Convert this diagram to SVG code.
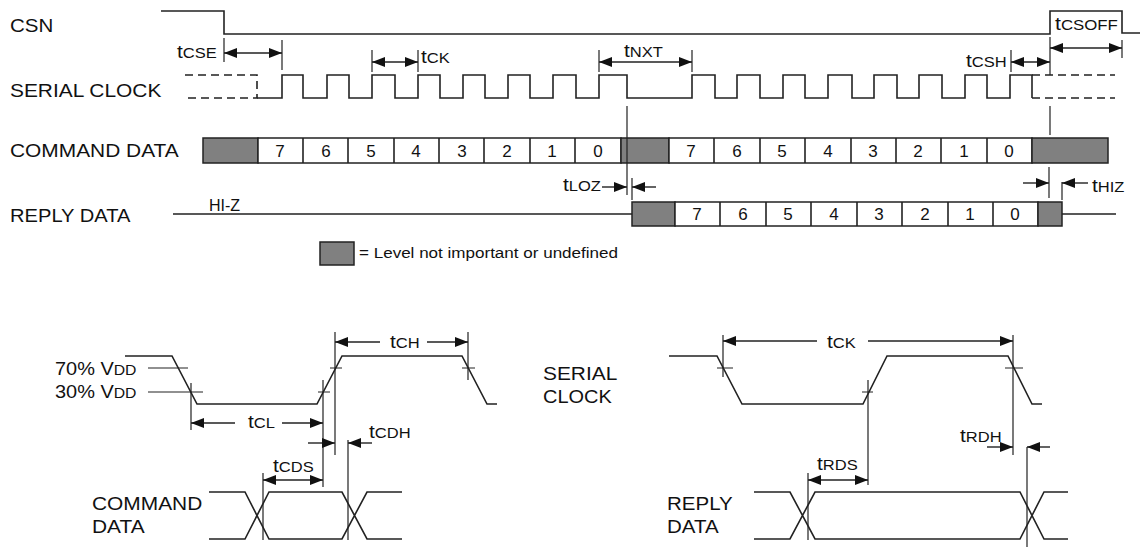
<svg xmlns="http://www.w3.org/2000/svg" width="1143" height="547" viewBox="0 0 1143 547">
<style>
text{font-family:"Liberation Sans",Arial,sans-serif;fill:#111;}
.lbl{font-size:19px;}
.t{font-size:19px;}
.sub{font-size:15px;}
.dig{font-size:17px;text-anchor:middle;}
.w{fill:none;stroke:#222;stroke-width:1.6;}
.thin{fill:none;stroke:#222;stroke-width:1.2;}
.dash{fill:none;stroke:#222;stroke-width:1.6;stroke-dasharray:8 5;}
.box{fill:#fff;stroke:#222;stroke-width:1.5;}
.gray{fill:#808080;stroke:#222;stroke-width:1.5;}
.arr{fill:none;stroke:#222;stroke-width:1.4;}
.e{marker-end:url(#ah);}
.s{marker-start:url(#ah);}
.b{marker-start:url(#ah);marker-end:url(#ah);}
</style>
<defs>
<marker id="ah" markerUnits="userSpaceOnUse" markerWidth="13" markerHeight="10" refX="13" refY="5" orient="auto-start-reverse">
<path d="M0,0 L13,5 L0,10 Z" fill="#111"/>
</marker>
</defs>

<g id="csn">
<text class="lbl" transform="translate(10,32) scale(1.08,1)">CSN</text>
<polyline class="w" points="161,11 224,11 224,34 1050,34 1050,11 1122,11 1122,33 1140,33"/>
</g>

<g id="serial-clock">
<text class="lbl" transform="translate(10,97) scale(1.1,1)">SERIAL CLOCK</text>
<path class="dash" d="M185,75 H257 V98 H185"/>
<path class="w" d="M257,98 H282 V75 H303 V98 H327 V75 H349 V98 H372 V75 H395 V98 H418 V75 H440 V98 H463 V75 H485 V98 H508 V75 H530 V98 H553 V75 H576 V98 H599 V75 H627 V98 H692 V75 H715 V98 H737 V75 H760 V98 H783 V75 H805 V98 H828 V75 H852 V98 H874 V75 H897 V98 H919 V75 H942 V98 H965 V75 H987 V98 H1010 V75 H1032 V98"/>
<path class="dash" d="M1032,75 H1115 M1032,98 H1115"/>
</g>

<g id="command-data">
<text class="lbl" transform="translate(10,157) scale(1.1,1)">COMMAND DATA</text>
<rect class="gray" x="203" y="138" width="55" height="25"/>
<rect class="box" x="258" y="138" width="363" height="25"/>
<rect class="gray" x="621" y="138" width="48" height="25"/>
<rect class="box" x="669" y="138" width="363" height="25"/>
<rect class="gray" x="1032" y="138" width="76" height="25"/>
<path class="w" d="M303,138 V163 M348,138 V163 M394,138 V163 M439,138 V163 M484,138 V163 M530,138 V163 M575,138 V163 M714,138 V163 M760,138 V163 M805,138 V163 M851,138 V163 M896,138 V163 M941,138 V163 M987,138 V163"/>
<text class="dig" x="280" y="157">7</text><text class="dig" x="326" y="157">6</text><text class="dig" x="371" y="157">5</text><text class="dig" x="416" y="157">4</text><text class="dig" x="462" y="157">3</text><text class="dig" x="507" y="157">2</text><text class="dig" x="552" y="157">1</text><text class="dig" x="598" y="157">0</text>
<text class="dig" x="691" y="157">7</text><text class="dig" x="737" y="157">6</text><text class="dig" x="782" y="157">5</text><text class="dig" x="828" y="157">4</text><text class="dig" x="873" y="157">3</text><text class="dig" x="918" y="157">2</text><text class="dig" x="964" y="157">1</text><text class="dig" x="1009" y="157">0</text>
</g>

<g id="reply-data">
<text class="lbl" transform="translate(10,222) scale(1.06,1)">REPLY DATA</text>
<text style="font-size:16px" x="209" y="211">HI-Z</text>
<path class="w" d="M173,214 H632 M1062,214 H1116"/>
<rect class="gray" x="632" y="202" width="43" height="24"/>
<rect class="box" x="675" y="202" width="363" height="24"/>
<rect class="gray" x="1038" y="202" width="24" height="24"/>
<path class="w" d="M720,202 V226 M766,202 V226 M811,202 V226 M857,202 V226 M902,202 V226 M948,202 V226 M993,202 V226"/>
<text class="dig" x="697" y="220">7</text><text class="dig" x="743" y="220">6</text><text class="dig" x="788" y="220">5</text><text class="dig" x="834" y="220">4</text><text class="dig" x="879" y="220">3</text><text class="dig" x="925" y="220">2</text><text class="dig" x="970" y="220">1</text><text class="dig" x="1015" y="220">0</text>
</g>

<g id="legend">
<rect class="gray" x="320" y="242" width="34" height="23"/>
<text style="font-size:14px" x="359" y="258" textLength="259" lengthAdjust="spacingAndGlyphs">= Level not important or undefined</text>
</g>

<g id="timing-labels-top">
<text class="t" transform="translate(177,58) scale(1.1,1)">t<tspan class="sub">CSE</tspan></text>
<text class="t" transform="translate(421,63) scale(1.1,1)">t<tspan class="sub">CK</tspan></text>
<text class="t" transform="translate(624,57) scale(1.1,1)">t<tspan class="sub">NXT</tspan></text>
<text class="t" transform="translate(966,67) scale(1.1,1)">t<tspan class="sub">CSH</tspan></text>
<text class="t" transform="translate(1055,30) scale(1.12,1)">t<tspan class="sub">CSOFF</tspan></text>
<text class="t" transform="translate(563,191) scale(1.1,1)">t<tspan class="sub">LOZ</tspan></text>
<text class="t" transform="translate(1092,192) scale(1.1,1)">t<tspan class="sub">HIZ</tspan></text>
</g>

<g id="detail-command">
<text class="lbl" transform="translate(55,375) scale(1.05,1)">70% V<tspan class="sub">DD</tspan></text>
<text class="lbl" transform="translate(55,398) scale(1.05,1)">30% V<tspan class="sub">DD</tspan></text>
<polyline class="w" points="125,356 172,356 197,404 317,404 342,356 462,356 487,404 497,404"/>
<path class="thin" d="M148,368 H188 M148,392 H203 M318,392 H330 M330,368 H342 M462,368 H475"/>
<text class="lbl" transform="translate(92,510) scale(1.1,1)">COMMAND</text>
<text class="lbl" transform="translate(92,533) scale(1.1,1)">DATA</text>
<path class="w" d="M209,492 H245 L269,539 H342 L367,492 H402 M209,539 H245 L269,492 H342 L367,539 H402"/>
<text class="t" transform="translate(390,348) scale(1.1,1)">t<tspan class="sub">CH</tspan></text>
<text class="t" transform="translate(248,428) scale(1.1,1)">t<tspan class="sub">CL</tspan></text>
<text class="t" transform="translate(369,438) scale(1.1,1)">t<tspan class="sub">CDH</tspan></text>
<text class="t" transform="translate(273,472) scale(1.1,1)">t<tspan class="sub">CDS</tspan></text>
</g>

<g id="detail-reply">
<text class="lbl" transform="translate(543,380) scale(1.1,1)">SERIAL</text>
<text class="lbl" transform="translate(543,403) scale(1.05,1)">CLOCK</text>
<polyline class="w" points="669,356 717,356 742,404 863,404 887,356 1008,356 1032,404 1042,404"/>
<path class="thin" d="M717,368 H733 M862,392 H873 M1005,368 H1023"/>
<text class="lbl" transform="translate(667,510) scale(1.08,1)">REPLY</text>
<text class="lbl" transform="translate(667,533) scale(1.08,1)">DATA</text>
<path class="w" d="M754,492 H790 L815,539 H1020 L1044,492 H1068 M754,539 H790 L815,492 H1020 L1044,539 H1068"/>
<text class="t" transform="translate(827,348) scale(1.1,1)">t<tspan class="sub">CK</tspan></text>
<text class="t" transform="translate(960,442) scale(1.1,1)">t<tspan class="sub">RDH</tspan></text>
<text class="t" transform="translate(817,470) scale(1.1,1)">t<tspan class="sub">RDS</tspan></text>
</g>

<g id="connectors">
<!-- reference ticks top -->
<path class="thin" d="M224,38 V62 M282,40 V70 M372,50 V72 M418,50 V72 M599,50 V72 M692,50 V72 M1011,50 V72 M1050,37 V75 M1122,40 V58 M627,106 V195 M1050,106 V135 M632,178 V200 M1049,167 V198 M1062,182 V200"/>
<path class="arr b" d="M224,53 H282"/>
<path class="arr b" d="M372,62 H418"/>
<path class="arr b" d="M599,62 H692"/>
<path class="arr b" d="M1011,62 H1050"/>
<path class="arr b" d="M1050,48 H1122"/>
<path class="arr e" d="M602,187 H627"/>
<path class="arr e" d="M656,187 H632"/>
<path class="arr e" d="M1023,183 H1049"/>
<path class="arr e" d="M1088,183 H1062"/>
<!-- bottom left -->
<path class="thin" d="M191,383 V430 M323,380 V487 M335,332 V455 M468,332 V380 M348,440 V540 M263,473 V540"/>
<path class="arr s" d="M335,342 H380"/>
<path class="arr e" d="M427,342 H468"/>
<path class="arr s" d="M191,423 H235"/>
<path class="arr e" d="M282,423 H323"/>
<path class="arr e" d="M308,443 H335"/>
<path class="arr e" d="M372,443 H348"/>
<path class="arr b" d="M263,480 H323"/>
<!-- bottom right -->
<path class="thin" d="M723,335 V377 M868,380 V485 M1013,335 V455 M1027,447 V547 M808,473 V540"/>
<path class="arr s" d="M723,341 H817"/>
<path class="arr e" d="M868,341 H1013"/>
<path class="arr e" d="M987,447 H1013"/>
<path class="arr e" d="M1050,447 H1027"/>
<path class="arr b" d="M808,480 H868"/>
</g>
</svg>
